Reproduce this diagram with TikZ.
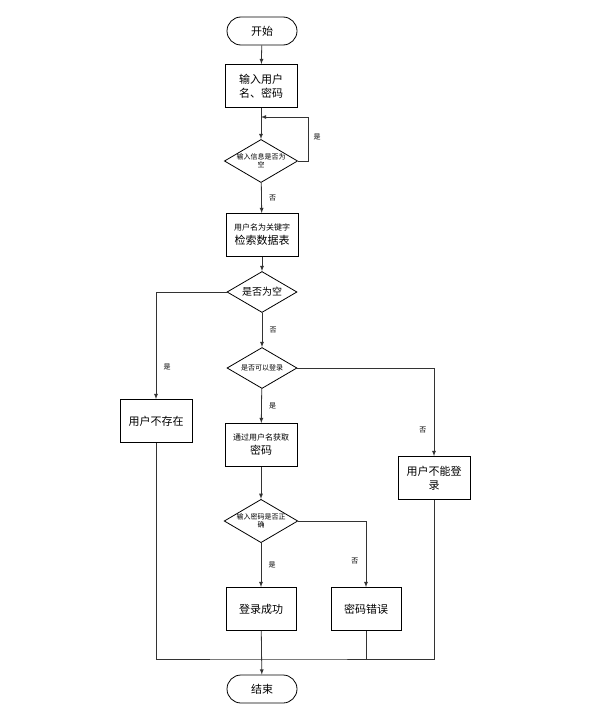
\documentclass[tikz,border=0pt]{standalone}
\usepackage{fontspec}
\setmainfont{Noto Sans CJK SC}
\usetikzlibrary{shapes.geometric}
\tikzset{>=latex}
\tikzset{
  box/.style = {draw, thick, minimum width=72pt, minimum height=43pt, align=center, font=\fontsize{11}{14}\selectfont, inner sep=1pt},
  term/.style = {draw, thick, rounded corners=14pt, minimum width=70pt, minimum height=28pt, font=\fontsize{11}{14}\selectfont},
  dec/.style = {draw, thick, diamond, aspect=1.7, minimum width=70pt, minimum height=41pt, inner sep=0pt, align=center, font=\fontsize{7}{8}\selectfont},
  lbl/.style = {font=\fontsize{7}{8}\selectfont},
  flow/.style = {->, thick, draw=black!80}
}

\begin{document}
\begin{tikzpicture}[x=1pt,y=-1pt]
  \useasboundingbox (0,0) rectangle (611,709);
  \node[term] (start) at (262,31) {开始};
  \node[box] (input) at (261,86) {输入用户\\名、密码};
  \node[dec] (empty) at (261,161) {输入信息是否为\\空};
  \node[box] (search) at (262,235) {\fontsize{8}{11}\selectfont 用户名为关键字\\检索数据表};
  \node[dec, font=\fontsize{10}{12}\selectfont] (exist) at (262,292) {是否为空};
  \node[dec] (canlog) at (262,368) {是否可以登录};
  \node[box] (getpwd) at (261,445) {\fontsize{8}{11}\selectfont 通过用户名获取\\密码};
  \node[dec] (check) at (261,521) {输入密码是否正\\确};
  \node[box] (nouser) at (156,421) {用户不存在};
  \node[box] (nolog) at (434,478) {用户不能登\\录};
  \node[box, minimum width=70pt] (ok) at (261,609) {登录成功};
  \node[box, minimum width=70pt] (wrong) at (366,609) {密码错误};
  \node[term] (stop) at (262,689) {结束};
  \coordinate (merge) at (262,659);

  % main line
  \draw[flow] (start) -- (input);
  \draw[flow] (input) -- (empty);
  \draw[flow] (empty.east) -- ++(10,0) |- (261,117);
  \draw[flow] (empty) -- node[lbl, right=4pt] {否} (search);
  \draw[flow] (search) -- (exist);
  \draw[flow] (exist) -- node[lbl, right=4pt] {否} (canlog);
  \draw[flow] (canlog) -- node[lbl, right=4pt] {是} (getpwd);
  \draw[flow] (getpwd) -- (check);
  \draw[flow] (check) -- node[lbl, right=4pt] {是} (ok);
  \draw[flow] (ok) -- (stop);
  \node[lbl] at (317,137) {是};

  % branches
  \draw[flow] (exist.west) -| node[lbl, pos=0.85, right=4pt] {是} (nouser);
  \draw[flow] (canlog.east) -| node[lbl, pos=0.85, left=4pt] {否} (nolog);
  \draw[flow] (check.east) -| node[lbl, pos=0.8, left=4pt] {否} (wrong);
  \draw[thick, black!80] (nouser) |- (merge) -| (nolog);
  \draw[thick, black!80] (wrong) -- (wrong |- merge);
\end{tikzpicture}
\end{document}
